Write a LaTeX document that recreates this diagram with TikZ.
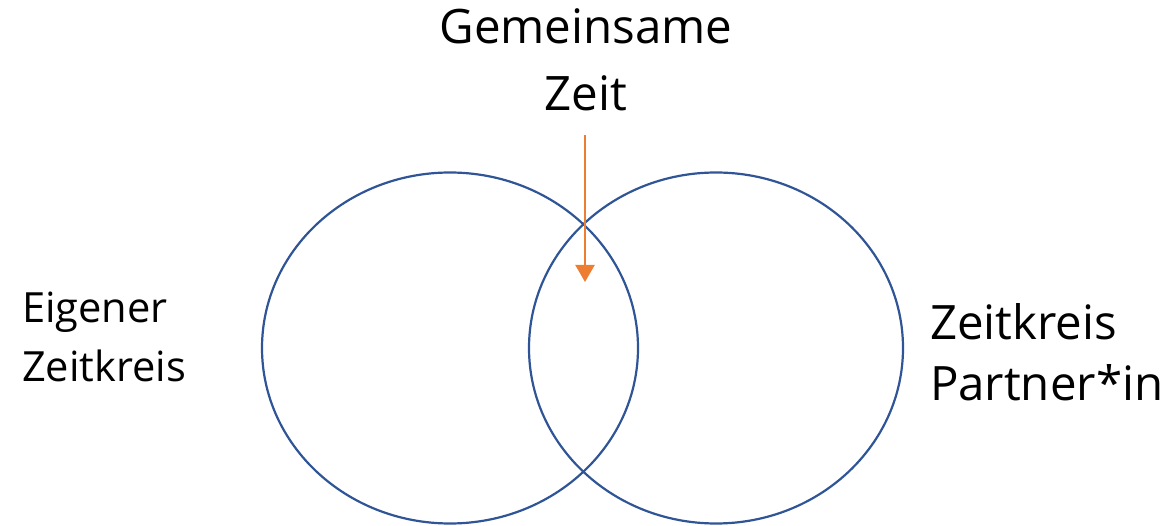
\documentclass[tikz,border=0pt]{standalone}
\usepackage{fontspec}
\setmainfont{Open Sans}
\usetikzlibrary{shapes.geometric,arrows.meta}
\definecolor{ringblue}{HTML}{2F5597}
\definecolor{arroworange}{HTML}{ED7D31}
\tikzset{
  ring/.style={ellipse, draw=ringblue, line width=2.2pt, minimum width=376pt, minimum height=351pt, inner sep=0pt},
  lbl/.style={inner sep=0pt, outer sep=0pt, text=black},
  pointer/.style={draw=arroworange, line width=2.2pt, -{Triangle[width=19pt,length=17pt]}}
}
\begin{document}
\begin{tikzpicture}[x=1pt,y=-1pt]
\useasboundingbox (0,0) rectangle (1173,526);
\node[ring] (left) at (450,348) {};
\node[ring, minimum width=374pt] (right) at (716,348) {};
\node[lbl, anchor=base, align=center, font=\fontsize{47.5}{67}\selectfont] (top) at (586,111) {Gemeinsame\\Zeit};
\node[lbl, anchor=base west, align=left, font=\fontsize{41.6}{59}\selectfont] (own) at (22,382) {Eigener\\Zeitkreis};
\node[lbl, anchor=base west, align=left, font=\fontsize{47.4}{61}\selectfont] (partner) at (930,401) {Zeitkreis\\Partner*in};
\coordinate (arrstart) at (585,135);
\coordinate (arrend) at (585,282);
\draw[pointer] (arrstart) -- (arrend);
\end{tikzpicture}
\end{document}
